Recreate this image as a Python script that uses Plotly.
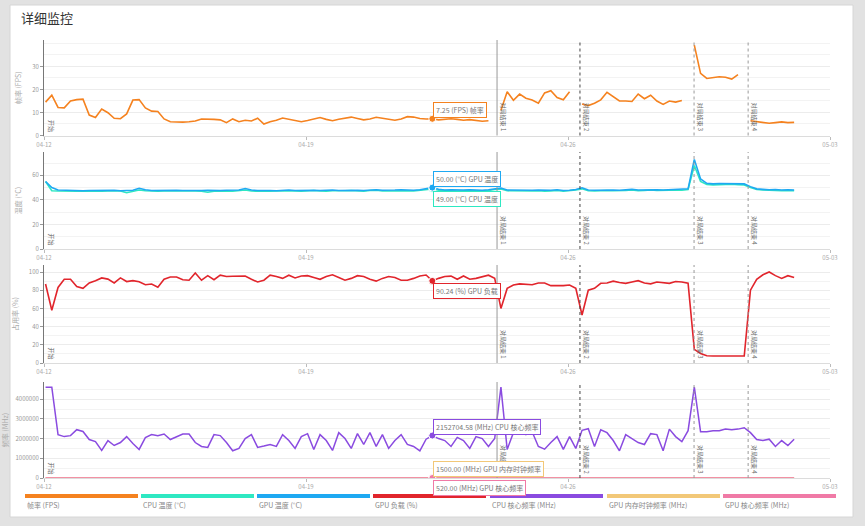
import plotly.graph_objects as go
from datetime import datetime, timedelta

# ---------------- data ----------------
tick_labels = ["04-12", "04-19", "04-26", "05-03"]
tick_dates = ["2024-04-12", "2024-04-19", "2024-04-26", "2024-05-03"]

event_times = ["2024-04-24 02:30", "2024-04-26 07:40", "2024-04-29 08:50", "2024-04-30 19:30"]
event_names = ["对局结束 1", "对局结束 2", "对局结束 3", "对局结束 4"]

fps = [14.5, 17.5, 12.2, 12.0, 15.0, 15.6, 15.8, 8.9, 7.8, 11.5,
       9.9, 7.5, 7.3, 9.4, 15.4, 15.6, 12.0, 10.6, 10.4, 7.2,
       6.0, 5.8, 5.8, 6.0, 6.3, 7.2, 7.2, 7.0, 6.8, 5.6,
       7.2, 6.0, 6.6, 6.3, 7.5, 5.0, 6.0, 6.6, 7.6, 7.0,
       6.4, 6.0, 6.5, 7.2, 7.8, 7.0, 6.4, 7.1, 7.6, 8.0,
       7.4, 6.8, 7.2, 7.9, 7.5, 7.0, 6.6, 7.2, 8.2, 8.0,
       7.4, 7.2, 7.25, 6.8, 6.9, 7.3, 7.0, 6.6, 6.9, 6.4,
       6.2, 6.4, None, 11.0, 19.0, 15.3, 18.0, 16.2, 15.4, 14.0,
       18.5, 19.5, 16.5, 15.5, 19.0, None, 13.7, 13.0, 14.0, 15.5,
       18.8, 17.0, 15.0, 15.0, 14.8, 18.0, 16.0, 17.5, 15.0, 13.5,
       15.0, 14.5, 15.2, None, 39.3, 27.0, 24.8, 25.0, 25.5, 25.3,
       24.5, 26.5, None, 6.4, 6.0, 5.6, 5.3, 5.6, 5.9, 5.6,
       5.7]

cpu_temp = [55, 47.5, 47.2, 47.0, 47.2, 47.0, 47.3, 47.0, 47.2, 47.0,
            47.3, 47.0, 47.2, 45.8, 47.0, 48.0, 47.5, 47.2, 47.0, 47.3,
            47.0, 47.2, 47.4, 47.0, 47.2, 47.0, 46.2, 47.0, 47.3, 47.2,
            47.0, 47.4, 48.0, 47.2, 47.0, 47.3, 47.0, 47.2, 47.4, 47.0,
            47.2, 47.0, 47.4, 47.6, 47.2, 47.0, 47.5, 47.2, 47.4, 47.6,
            47.2, 47.0, 47.6, 47.8, 47.2, 47.4, 47.2, 47.8, 47.5, 47.2,
            47.6, 48.2, 49.0, 47.8, 47.4, 47.6, 47.2, 47.5, 47.8, 47.4,
            47.2, 47.6, 48.4, 48.8, 47.4, 47.2, 47.6, 47.0, 47.2, 47.5,
            47.0, 47.2, 47.6, 47.0, 47.2, 48.0, 49.0, 47.4, 47.2, 47.5,
            47.6, 47.4, 47.2, 47.6, 48.0, 47.4, 47.6, 48.0, 47.6, 47.4,
            47.8, 48.0, 47.8, 48.4, 68.0, 55.0, 52.5, 52.2, 52.6, 52.4,
            52.8, 52.4, 52.2, 50.0, 48.4, 48.0, 47.6, 47.8, 47.4, 47.6,
            47.4]

gpu_temp = [55, 50, 48, 47.8, 47.6, 47.8, 47.5, 47.6, 47.8, 47.5,
            47.6, 47.8, 47.5, 47.4, 47.8, 49.5, 48.2, 47.6, 47.8, 47.5,
            47.6, 47.8, 47.6, 47.5, 47.8, 47.6, 47.8, 47.5, 47.6, 47.8,
            47.6, 48.0, 49.2, 48.0, 47.6, 47.8, 47.6, 47.5, 47.8, 48.0,
            47.6, 47.8, 48.2, 47.8, 47.6, 47.9, 48.0, 47.7, 47.8, 48.1,
            47.8, 47.6, 48.0, 48.2, 47.8, 47.7, 48.0, 48.3, 48.0, 47.8,
            48.2, 49.0, 50.0, 48.6, 48.0, 48.2, 47.8, 48.0, 48.3, 48.0,
            47.8, 48.2, 49.0, 49.6, 48.0, 47.8, 48.2, 47.6, 47.8, 48.0,
            47.6, 47.8, 48.2, 47.6, 47.8, 48.4, 49.8, 48.0, 47.8, 48.0,
            48.2, 48.0, 47.8, 48.2, 48.6, 48.0, 48.2, 48.5, 48.2, 48.0,
            48.3, 48.6, 48.4, 49.0, 73.0, 57.0, 53.5, 53.0, 53.4, 53.2,
            53.5, 53.2, 53.0, 50.8, 49.0, 48.6, 48.2, 48.5, 48.0, 48.3,
            48.0]

gpu_load = [86.8, 58.0, 83.0, 92.0, 92.0, 84.0, 82.0, 88.0, 90.5, 93.5,
            92.2, 88.0, 93.5, 89.5, 90.5, 89.3, 86.0, 86.8, 83.2, 92.0,
            94.5, 94.5, 91.5, 91.0, 99.0, 91.0, 96.0, 91.5, 96.5, 95.0,
            95.3, 95.5, 95.6, 92.0, 89.0, 91.0, 96.5, 95.0, 93.0, 96.5,
            93.5, 95.6, 96.0, 94.0, 92.0, 95.0, 97.0, 94.0, 91.0, 93.0,
            96.0, 95.0, 92.0, 90.0, 93.0, 95.0, 94.0, 91.0, 91.0, 93.0,
            95.6, 96.7, 90.24, 93.0, 95.0, 95.5, 92.0, 95.6, 92.0, 93.0,
            95.0, 96.5, 93.0, 60.0, 82.0, 85.7, 87.0, 86.5, 86.0, 88.0,
            88.0, 85.0, 84.6, 85.0, 85.7, 82.0, 52.7, 80.0, 82.0, 87.6,
            88.0, 90.0, 88.5, 87.5, 89.0, 90.5, 88.0, 87.0, 89.0, 88.5,
            87.5, 89.5, 89.0, 87.6, 15.0, 10.5, 8.0, 7.7, 7.7, 7.7,
            7.7, 7.7, 7.7, 80.0, 92.0, 97.0, 100.0, 96.0, 93.0, 96.0,
            94.0]

cpu_freq = [4610000, 4610000, 2200000, 2100000, 2150000, 2450000, 2360000, 1950000, 1850000, 1400000,
            1900000, 1650000, 1800000, 2100000, 1750000, 1450000, 2050000, 2200000, 2140000, 2230000,
            1950000, 2100000, 2230000, 2230000, 1800000, 1600000, 1550000, 2200000, 2150000, 1800000,
            1380000, 1500000, 2000000, 2200000, 1550000, 1620000, 1700000, 1600000, 2200000, 1900000,
            1500000, 2100000, 2250000, 1450000, 2200000, 1900000, 1400000, 2300000, 2000000, 1500000,
            2250000, 1700000, 2300000, 1600000, 2200000, 1500000, 1900000, 2200000, 1700000, 1600000,
            1380000, 1970000, 2152704.58, 2000000, 1900000, 1600000, 2060000, 1900000, 1500000, 2100000,
            2000000, 1600000, 2000000, 4610000, 1450000, 2300000, 2400000, 2200000, 2350000, 1600000,
            1460000, 1800000, 2100000, 1450000, 2100000, 1500000, 2420000, 2500000, 1600000, 2450000,
            2300000, 1900000, 1380000, 2200000, 2000000, 1800000, 1700000, 2250000, 2200000, 1380000,
            2480000, 2100000, 1850000, 2400000, 4610000, 2350000, 2350000, 2400000, 2400000, 2480000,
            2450000, 2480000, 2550000, 2300000, 1950000, 1900000, 1970000, 1600000, 1900000, 1650000,
            1970000]

gpu_mem_freq = [1500.0] * len(fps)
gpu_core_freq = [520.0] * len(fps)

series_names = ["帧率 (FPS)", "CPU 温度 (°C)", "GPU 温度 (°C)", "GPU 负载 (%)",
                "CPU 核心频率 (MHz)", "GPU 内存时钟频率 (MHz)", "GPU 核心频率 (MHz)"]
units = ["FPS", "°C", "°C", "%", "MHz", "MHz", "MHz"]
short_names = ["帧率", "CPU 温度", "GPU 温度", "GPU 负载", "CPU 核心频率", "GPU 内存时钟频率", "GPU 核心频率"]
axis_titles = ["帧率 (FPS)", "温度 (°C)", "占用率 (%)", "频率 (MHz)"]
y_tickvals = [[0, 10, 20, 30], [0, 20, 40, 60], [0, 20, 40, 60, 80, 100],
              [0, 1000000, 2000000, 3000000, 4000000]]
hover_index = 62

# ---------------- style ----------------
FONT = "Noto Sans CJK SC, Noto Sans, sans-serif"
colors = ["#f5821f", "#2ee8c2", "#1ea9f2", "#e1252c", "#8a4be0", "#f2c878", "#f07aa6"]
W, H = 865, 526
ML, MR, MT, MB = 44, 35, 40, 48
PW, PH = W - ML - MR, H - MT - MB


def px_x(px):
    return (px - ML) / PW


def px_y(py):
    return (H - MB - py) / PH


start = datetime(2024, 4, 12, 1, 0)
times = [start + timedelta(hours=4 * i) for i in range(len(fps))]

series = [fps, cpu_temp, gpu_temp, gpu_load, cpu_freq, gpu_mem_freq, gpu_core_freq]
panel_of = [1, 2, 2, 3, 4, 4, 4]

fig = go.Figure()
draw_order = [0, 1, 2, 3, 5, 6, 4]
for k in draw_order:
    p = panel_of[k]
    sfx = "" if p == 1 else str(p)
    fig.add_trace(go.Scatter(x=times, y=series[k], mode="lines", name=series_names[k],
                             line=dict(color=colors[k], width=1.6 if k != 4 else 1.5),
                             connectgaps=False, xaxis="x" + sfx, yaxis="y" + sfx,
                             showlegend=False, hoverinfo="skip"))

# hover markers
for k in range(7):
    p = panel_of[k]
    sfx = "" if p == 1 else str(p)
    fig.add_trace(go.Scatter(x=[times[hover_index]], y=[series[k][hover_index]], mode="markers",
                             marker=dict(color=colors[k], size=7, line=dict(color="white", width=1)),
                             xaxis="x" + sfx, yaxis="y" + sfx, showlegend=False, hoverinfo="skip"))

# panel pixel extents (top, bottom)
panels = [(40, 135.5), (152, 249), (265, 363), (382, 478)]
y_ranges = [[0, 41.5], [0, 79], [0, 107.7], [0, 4.87e6]]
y_minor = [5, 10, 10, 500000]

layout = dict(
    width=W, height=H, autosize=False,
    margin=dict(l=ML, r=MR, t=MT, b=MB),
    paper_bgcolor="#e2e2e2", plot_bgcolor="rgba(0,0,0,0)",
    font=dict(family=FONT, size=7, color="#999"),
    hovermode=False,
)

shapes = []
annotations = []

# card
shapes.append(dict(type="rect", xref="paper", yref="paper", layer="below",
                   x0=px_x(10), x1=px_x(853), y0=px_y(517), y1=px_y(5),
                   fillcolor="white", line=dict(color="#d6d6d6", width=1)))

for p in range(4):
    top, bot = panels[p]
    sfx = "" if p == 0 else str(p + 1)
    layout["xaxis" + sfx] = dict(
        domain=[0, 1], anchor="y" + sfx, type="date", automargin=False,
        range=["2024-04-12", "2024-05-03"],
        tickvals=tick_dates, ticktext=tick_labels,
        showgrid=False, showline=True, linecolor="#dcdcdc", linewidth=1,
        ticks="outside", ticklen=3, tickcolor="#bbb",
        tickfont=dict(size=6, color="#aaa"), zeroline=False,
    )
    layout["yaxis" + sfx] = dict(
        domain=[px_y(bot), px_y(top)], anchor="x" + sfx, automargin=False,
        range=y_ranges[p], tickvals=y_tickvals[p],
        tickformat="d",
        showgrid=True, gridcolor="#ececec", gridwidth=1,
        minor=dict(dtick=y_minor[p], tick0=0, showgrid=True, gridcolor="#f3f3f3"),
        showline=True, linecolor="#777", linewidth=1,
        ticks="outside", ticklen=3, tickcolor="#999",
        tickfont=dict(size=6, color="#999"), zeroline=False,
        title=dict(text=axis_titles[p], font=dict(size=7, color="#aaa"), standoff=9),
    )
    # event lines
    for j, et in enumerate(event_times):
        shapes.append(dict(type="line", xref="x" + sfx, yref="y" + sfx + " domain",
                           x0=et, x1=et, y0=0, y1=1,
                           line=dict(color="#444" if j == 1 else "#999", width=1,
                                     dash="dot" if j != 0 else "solid")))
        annotations.append(dict(xref="x" + sfx, yref="y" + sfx + " domain", x=et, y=0.02,
                                text=event_names[j], textangle=90, showarrow=False,
                                xanchor="left", yanchor="bottom", xshift=0,
                                font=dict(size=6, color="#666")))
    annotations.append(dict(xref="x" + sfx, yref="y" + sfx + " domain", x="2024-04-12", y=0.02,
                            text="开始", textangle=90, showarrow=False,
                            xanchor="left", yanchor="bottom", xshift=1,
                            font=dict(size=6, color="#666")))

# tooltip boxes
box_side = {0: "above", 2: "above", 1: "below", 3: "below", 4: "above", 5: "above", 6: "below"}
for k in [0, 2, 1, 3, 4, 5, 6]:
    p = panel_of[k]
    sfx = "" if p == 1 else str(p)
    v = series[k][hover_index]
    above = box_side[k] == "above"
    annotations.append(dict(
        xref="x" + sfx, yref="y" + sfx, x=times[hover_index], y=v,
        text=f"{v:.2f} ({units[k]}) {short_names[k]}", showarrow=False,
        xanchor="left", yanchor="bottom" if above else "top",
        xshift=1, yshift=1 if above else -2,
        bgcolor="white", bordercolor=colors[k], borderwidth=1, borderpad=2,
        font=dict(size=7, color="#777")))

# title
annotations.append(dict(xref="paper", yref="paper", x=px_x(19), y=px_y(18), text="详细监控",
                        showarrow=False, xanchor="left", yanchor="middle",
                        font=dict(size=13, color="#333", family=FONT)))

# custom legend
leg_x0 = [25, 141, 257, 373, 490, 607, 723]
leg_w = 113
for k in range(7):
    shapes.append(dict(type="rect", xref="paper", yref="paper",
                       x0=px_x(leg_x0[k]), x1=px_x(leg_x0[k] + leg_w),
                       y0=px_y(498), y1=px_y(494), fillcolor=colors[k], line=dict(width=0)))
    annotations.append(dict(xref="paper", yref="paper", x=px_x(leg_x0[k]), y=px_y(505),
                            text=series_names[k], showarrow=False, xanchor="left", yanchor="middle",
                            font=dict(size=7, color="#888")))

layout["shapes"] = shapes
layout["annotations"] = annotations
fig.update_layout(**layout)
fig.write_html("out.html")
